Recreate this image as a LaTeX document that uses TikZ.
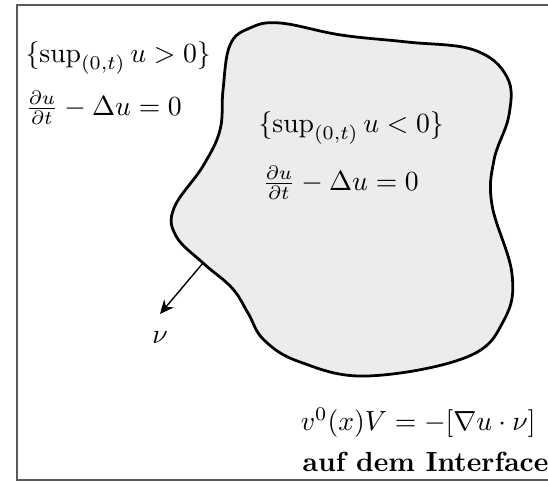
\documentclass[tikz,border=0pt]{standalone}
\usepackage{amsmath,amssymb}
\usepackage{tikz}
\usetikzlibrary{arrows.meta}

\begin{document}
\begin{tikzpicture}[x=0.0127cm, y=-0.0127cm]
    \useasboundingbox (0,0) rectangle (548,482);
    % frame (right side lies outside the picture)
    \draw[gray!70!black, line width=0.4pt] (555,5) -- (17,5) -- (17,480) -- (555,480);
    % the set {sup u < 0}
    \draw[line width=1pt, fill=gray!15] plot[smooth cycle, tension=0.65] coordinates {
        (280,23) (341,35) (407,42) (474,50)
        (507,77) (509,115) (494,160) (492,205)
        (512,274) (504,320) (467,357) (367,376) (300,362)
        (264,340) (248,313) (232,288) (203,263)
        (176,236) (174,208) (203,166) (220,130) (223,90)
        (230,45) (250,28)};
    % normal
    \coordinate (foot) at (203,263);
    \coordinate (tip) at (160,314);
    \draw[line width=0.5pt, -{Stealth[length=5pt, width=4.5pt]}] (foot) -- (tip);
    \node (nu) at (160,338) {$\nu$};
    % outside
    \node[anchor=west, inner sep=0pt] (outer) at (25,58) {$\{\sup_{(0,t)} u > 0\}$};
    \node[anchor=west, inner sep=0pt] (outereq) at (25,108) {$\frac{\partial u}{\partial t} - \Delta u = 0$};
    % inside
    \node[anchor=west, inner sep=0pt] (inner) at (258,128) {$\{\sup_{(0,t)} u < 0\}$};
    \node[anchor=west, inner sep=0pt] (innereq) at (262,183) {$\frac{\partial u}{\partial t} - \Delta u = 0$};
    % interface condition
    \node[anchor=east, inner sep=0pt] (jump) at (536,423) {$v^0(x)V = -[\nabla u\cdot\nu]$};
    \node[anchor=east, inner sep=0pt] (iface) at (549,462) {\textbf{auf dem Interface}};
\end{tikzpicture}
\end{document}
